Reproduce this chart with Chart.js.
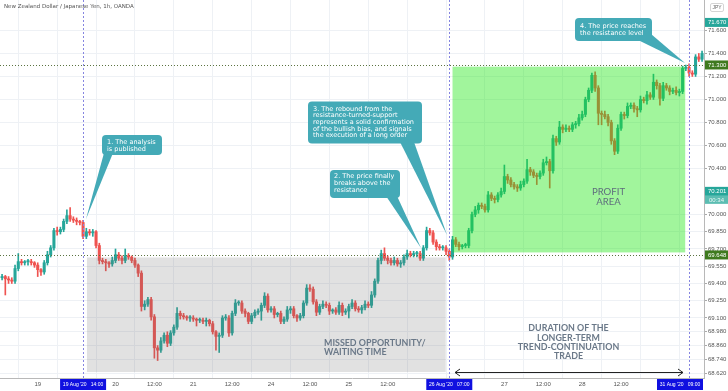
<!DOCTYPE html>
<html>
<head>
<meta charset="utf-8">
<script src="https://cdn.jsdelivr.net/npm/chart.js@4.4.0/dist/chart.umd.min.js"></script>
<style>
  html, body { margin: 0; padding: 0; background: #fff; }
  canvas { display: block; }
</style>
</head>
<body>
<canvas id="grafico" width="728" height="391"></canvas>
<script>
// Velas de 1h NZD/JPY. Indice 0 = 19 ago 00:00 (24 velas por dia de mercado)
const primerIndice = -11;
const aperturaInicial = 69.45;

const cierres = [
  69.46, 69.44, 69.43, 69.42, 69.53, 69.59, 69.58, 69.59, 69.59, 69.58, 69.56,
  // 19 ago
  69.52, 69.50, 69.58, 69.65, 69.71, 69.86, 69.85, 69.87, 69.94, 69.99, 69.96, 69.95,
  69.94, 69.93, 69.81, 69.85, 69.84, 69.85, 69.73, 69.60, 69.59, 69.58, 69.57, 69.60,
  // 20 ago
  69.65, 69.62, 69.60, 69.64, 69.63, 69.60, 69.56, 69.49, 69.20, 69.22, 69.26, 69.11,
  68.84, 68.82, 68.90, 68.95, 68.88, 68.97, 69.02, 69.14, 69.12, 69.11, 69.10, 69.10,
  // 21 ago
  69.09, 69.08, 69.08, 69.07, 69.08, 69.05, 68.98, 68.94, 68.95, 69.10, 69.10, 68.97,
  69.14, 69.23, 69.23, 69.16, 69.14, 69.07, 69.12, 69.15, 69.16, 69.21, 69.29, 69.17,
  // 24 ago
  69.18, 69.13, 69.14, 69.07, 69.09, 69.17, 69.18, 69.12, 69.10, 69.12, 69.23, 69.36,
  69.35, 69.24, 69.15, 69.20, 69.22, 69.21, 69.16, 69.17, 69.15, 69.21, 69.15, 69.16,
  // 25 ago
  69.20, 69.23, 69.18, 69.17, 69.19, 69.22, 69.21, 69.30, 69.42, 69.60, 69.66, 69.62,
  69.60, 69.58, 69.60, 69.57, 69.58, 69.63, 69.66, 69.65, 69.66, 69.66, 69.62, 69.71,
  // 26 ago
  69.86, 69.84, 69.76, 69.72, 69.71, 69.71, 69.68, 69.63, 69.78, 69.74, 69.72, 69.73,
  69.73, 69.86, 70.00, 70.04, 70.08, 70.07, 70.04, 70.17, 70.14, 70.13, 70.17, 70.20,
  // 27 ago
  70.33, 70.30, 70.26, 70.24, 70.23, 70.26, 70.29, 70.39, 70.37, 70.34, 70.33, 70.36,
  70.45, 70.46, 70.38, 70.66, 70.63, 70.76, 70.74, 70.75, 70.74, 70.78, 70.79, 70.84,
  // 28 ago
  70.87, 71.00, 71.08, 71.21, 71.10, 70.88, 70.87, 70.85, 70.80, 70.64, 70.55, 70.75,
  70.87, 70.86, 70.94, 70.95, 70.92, 70.91, 71.00, 70.99, 71.04, 71.02, 71.15, 71.12,
  // 31 ago
  71.01, 71.12, 71.10, 71.07, 71.08, 71.06, 71.07, 71.27, 71.28, 71.23, 71.22, 71.37,
  71.35, 71.40
];

// largo de las mechas en pips (0.01)
const mechaArriba = [
  2, 1, 2, 2, 3, 7, 2, 1, 2, 2, 1,
  2, 1, 2, 3, 2, 2, 3, 2, 2, 5, 7, 2, 2, 1, 2, 3, 2, 2, 1, 2, 2, 2, 1, 3,
  5, 2, 2, 6, 2, 1, 2, 1, 2, 3, 2, 2, 2, 2, 3, 2, 3, 2, 2, 5, 2, 2, 1, 2,
  2, 1, 2, 2, 2, 1, 2, 1, 2, 2, 3, 2, 2, 3, 2, 2, 2, 1, 2, 2, 2, 2, 3, 2,
  2, 2, 1, 2, 2, 3, 2, 2, 1, 2, 2, 3, 3, 2, 2, 2, 3, 2, 2, 1, 2, 3, 2, 2,
  2, 3, 2, 2, 2, 3, 2, 3, 2, 2, 3, 5, 2, 2, 3, 2, 2, 2, 3, 2, 2, 2, 2, 2,
  3, 2, 2, 2, 2, 2, 2, 2, 3, 2, 2, 1, 2, 2, 2, 3, 2, 2, 2, 3, 2, 2, 2, 3,
  10, 2, 2, 2, 2, 3, 2, 9, 2, 2, 2, 2, 3, 4, 2, 3, 2, 5, 2, 3, 2, 2, 2, 3,
  3, 2, 2, 2, 3, 2, 2, 3, 2, 2, 2, 3, 2, 2, 3, 2, 2, 2, 3, 2, 3, 2, 7, 2,
  2, 3, 2, 2, 2, 3, 2, 2, 2, 3, 2, 2, 3, 2
];
const mechaAbajo = [
  2, 14, 3, 2, 2, 2, 2, 2, 3, 2, 2,
  6, 3, 2, 2, 2, 2, 3, 2, 2, 2, 2, 2, 3, 2, 2, 2, 2, 3, 2, 3, 2, 7, 3, 2,
  2, 2, 3, 2, 2, 2, 2, 3, 4, 3, 2, 3, 9, 9, 2, 2, 3, 2, 2, 2, 3, 2, 2, 3,
  2, 5, 2, 2, 4, 2, 2, 12, 14, 2, 2, 3, 2, 2, 2, 2, 3, 2, 2, 2, 2, 8, 2, 2,
  2, 3, 2, 2, 2, 2, 3, 2, 3, 2, 2, 2, 2, 2, 3, 2, 2, 2, 3, 2, 2, 2, 3, 2,
  6, 2, 2, 2, 3, 2, 2, 2, 2, 2, 3, 2, 3, 2, 2, 2, 3, 2, 2, 2, 2, 3, 2, 2,
  2, 2, 2, 3, 2, 2, 3, 3, 2, 2, 3, 2, 2, 2, 2, 2, 3, 2, 2, 2, 2, 3, 2, 2,
  2, 3, 2, 2, 3, 2, 2, 2, 3, 2, 7, 2, 2, 2, 15, 2, 3, 2, 3, 2, 2, 2, 3, 2,
  2, 2, 2, 2, 3, 10, 9, 2, 3, 3, 3, 2, 2, 3, 2, 2, 3, 6, 2, 2, 3, 2, 2, 3,
  6, 2, 2, 3, 2, 2, 3, 2, 2, 3, 2, 2, 2, 2
];

const ticksPrecio = [71.6, 71.4, 71.2, 71.0, 70.8, 70.6, 70.4, 70.0, 69.85, 69.7,
  69.55, 69.4, 69.25, 69.1, 68.98, 68.86, 68.74, 68.62];
const ticksFecha = [0, 12, 24, 36, 48, 60, 72, 84, 96, 108, 120, 132, 144, 156, 168, 180, 192];
// las vacias quedan tapadas por las etiquetas azules
const etiquetasFecha = ['19', '', '20', '12:00', '21', '12:00', '24', '12:00', '25', '12:00',
  '', '', '27', '12:00', '28', '12:00', ''];

// niveles y momentos marcados
const resistencia = 71.3;
const soporte = 69.648;
const momentos = [14, 127, 201];
const textosMomento = ["19 Aug '20   14:00", "26 Aug '20   07:00", "31 Aug '20   09:00"];
const etiquetasEje = [
  { v: 71.67, txt: '71.670', bg: '#26a69a' },
  { v: 71.3, txt: '71.300', bg: '#3f7a1f' },
  { v: 70.201, txt: '70.201', bg: '#26a69a' },
  { v: 69.648, txt: '69.648', bg: '#3f7a1f' }
];
const zonaEspera = { x0: 15.2, x1: 125.9, y0: 68.63, y1: 69.626 };
const zonaGanancia = { x0: 128.0, x1: 199.8, y0: 69.67, y1: 71.285 };

const VERDE = '#26a69a';
const ROJO = '#ef5350';
const FUENTE = '"DejaVu Sans", Verdana, sans-serif';
const FUENTE_EJE = '"Liberation Sans", Arial, sans-serif';

const velas = cierres.map((c, k) => {
  const o = k === 0 ? aperturaInicial : cierres[k - 1];
  return {
    x: primerIndice + k, o: o, c: c,
    h: Math.max(o, c) + mechaArriba[k] / 100,
    l: Math.min(o, c) - mechaAbajo[k] / 100
  };
});
const colores = velas.map(v => v.c >= v.o ? VERDE : ROJO);

function rectRedondo(ctx, x, y, w, h, r) {
  ctx.beginPath();
  ctx.moveTo(x + r, y);
  ctx.lineTo(x + w - r, y);
  ctx.quadraticCurveTo(x + w, y, x + w, y + r);
  ctx.lineTo(x + w, y + h - r);
  ctx.quadraticCurveTo(x + w, y + h, x + w - r, y + h);
  ctx.lineTo(x + r, y + h);
  ctx.quadraticCurveTo(x, y + h, x, y + h - r);
  ctx.lineTo(x, y + r);
  ctx.quadraticCurveTo(x, y, x + r, y);
  ctx.closePath();
}

// Globos de texto (coordenadas en pixeles del lienzo)
const globos = [
  { x: 102, y: 135, w: 60, h: 20, cola: [[104, 153], [113, 153], [86, 219]], tx: 107, ty: 142.7,
    lineas: ['1. The analysis', 'is published'] },
  { x: 330, y: 170, w: 70, h: 28, cola: [[386, 196], [397, 196], [421, 248]], tx: 334, ty: 176.7,
    lineas: ['2. The price finally', 'breaks above the', 'resistance'] },
  { x: 308, y: 101.5, w: 114, h: 42, cola: [[400, 142], [414, 142], [447, 235]], tx: 313, ty: 109,
    lineas: ['3. The rebound from the', 'resistance-turned-support', 'represents a solid confirmation',
      'of the bullish bias, and signals', 'the execution of a long order'] },
  { x: 575, y: 18, w: 77, h: 23, cola: [[638, 40], [651, 34], [685, 63]], tx: 580, ty: 26.7,
    lineas: ['4. The price reaches', 'the resistance level'] }
];

const dibujos = {
  id: 'dibujos',
  afterDatasetsDraw(chart) {
    const ctx = chart.ctx;
    const xs = chart.scales.x, ys = chart.scales.y;
    const px = v => xs.getPixelForValue(v);
    const py = v => ys.getPixelForValue(v);
    const area = chart.chartArea;
    ctx.save();

    // zonas sombreadas encima de las velas
    ctx.fillStyle = 'rgba(105,105,105,0.2)';
    ctx.fillRect(px(zonaEspera.x0), py(zonaEspera.y1), px(zonaEspera.x1) - px(zonaEspera.x0), py(zonaEspera.y0) - py(zonaEspera.y1));
    ctx.fillStyle = 'rgba(30,230,20,0.42)';
    ctx.fillRect(px(zonaGanancia.x0), py(zonaGanancia.y1), px(zonaGanancia.x1) - px(zonaGanancia.x0), py(zonaGanancia.y0) - py(zonaGanancia.y1));

    // lineas punteadas horizontales
    ctx.lineWidth = 1;
    ctx.setLineDash([1, 2]);
    ctx.strokeStyle = '#5b7340';
    [resistencia, soporte].forEach(v => {
      const y = Math.round(py(v)) + 0.5;
      ctx.beginPath(); ctx.moveTo(area.left, y); ctx.lineTo(area.right, y); ctx.stroke();
    });

    // verticales de los momentos
    ctx.setLineDash([2, 2]);
    ctx.strokeStyle = '#8585e0';
    momentos.forEach(m => {
      const x = Math.round(px(m)) + 0.5;
      ctx.beginPath(); ctx.moveTo(x, area.top); ctx.lineTo(x, area.bottom); ctx.stroke();
    });
    ctx.setLineDash([]);

    // textos de las zonas
    ctx.fillStyle = '#6a7888';
    ctx.font = 'bold 8.9px Lato, "Open Sans", sans-serif';
    ctx.textBaseline = 'middle';
    ctx.textAlign = 'left';
    ctx.fillText('MISSED OPPORTUNITY/', 324, 342.7);
    ctx.fillText('WAITING TIME', 324, 352.3);
    ctx.textAlign = 'center';
    ['DURATION OF THE', 'LONGER-TERM', 'TREND-CONTINUATION', 'TRADE'].forEach((t, k) => {
      ctx.fillText(t, 568.5, 328.3 + k * 9.4);
    });
    ctx.font = '9.6px Lato, "Open Sans", sans-serif';
    ctx.fillStyle = '#5f6e7e';
    ctx.fillText('PROFIT', 608.5, 191.7);
    ctx.fillText('AREA', 608.5, 201.7);

    // flecha doble de duracion
    const ya = 372.5, xa = 455, xb = 683;
    ctx.strokeStyle = '#222';
    ctx.lineWidth = 1;
    ctx.beginPath(); ctx.moveTo(xa, ya); ctx.lineTo(xb, ya); ctx.stroke();
    ctx.beginPath();
    ctx.moveTo(xa + 5, ya - 3.5); ctx.lineTo(xa, ya); ctx.lineTo(xa + 5, ya + 3.5);
    ctx.moveTo(xb - 5, ya - 3.5); ctx.lineTo(xb, ya); ctx.lineTo(xb - 5, ya + 3.5);
    ctx.stroke();

    // globos
    globos.forEach(g => {
      ctx.fillStyle = '#44aab7';
      ctx.beginPath();
      ctx.moveTo(g.cola[0][0], g.cola[0][1]);
      ctx.lineTo(g.cola[1][0], g.cola[1][1]);
      ctx.lineTo(g.cola[2][0], g.cola[2][1]);
      ctx.closePath();
      ctx.fill();
      rectRedondo(ctx, g.x, g.y, g.w, g.h, 4);
      ctx.fill();
      ctx.fillStyle = '#fff';
      ctx.font = '6.5px ' + FUENTE;
      ctx.textAlign = 'left';
      ctx.textBaseline = 'middle';
      g.lineas.forEach((t, k) => ctx.fillText(t, g.tx, g.ty + k * 6.7));
    });
    ctx.restore();
  },
  afterDraw(chart) {
    const ctx = chart.ctx;
    const xs = chart.scales.x, ys = chart.scales.y;
    const area = chart.chartArea;
    ctx.save();
    ctx.textBaseline = 'middle';

    // titulo
    ctx.fillStyle = '#555';
    ctx.font = '5.5px ' + FUENTE;
    ctx.textAlign = 'left';
    ctx.fillText('New Zealand Dollar / Japanese Yen, 1h, OANDA', 4, 6.5);

    // caja JPY
    ctx.fillStyle = '#fff';
    ctx.strokeStyle = '#d5d5d5';
    rectRedondo(ctx, 710.5, 3.5, 13, 8, 1.5);
    ctx.fill(); ctx.stroke();
    ctx.fillStyle = '#666';
    ctx.font = '5px ' + FUENTE_EJE;
    ctx.textAlign = 'center';
    ctx.fillText('JPY', 717, 7.8);

    // etiquetas de precio en el eje
    ctx.font = '6px ' + FUENTE_EJE;
    ctx.textAlign = 'left';
    etiquetasEje.forEach(e => {
      const y = ys.getPixelForValue(e.v);
      ctx.fillStyle = e.bg;
      ctx.fillRect(area.right + 1, y - 4.5, 727 - area.right, 9);
      ctx.fillStyle = '#fff';
      ctx.fillText(e.txt, area.right + 4, y + 0.3);
      if (e.txt === '70.201') {
        ctx.fillStyle = '#5cbdb2';
        ctx.fillRect(area.right + 1, y + 4.5, 727 - area.right, 8);
        ctx.fillStyle = '#e9f7f5';
        ctx.fillText('00:34', area.right + 5, y + 8.6);
      }
    });

    // etiquetas azules de fecha (el texto se ajusta al ancho de la caja)
    momentos.forEach((m, k) => {
      const w = 46;
      let cx = xs.getPixelForValue(m);
      cx = Math.min(cx, area.right - w / 2 - 1);
      ctx.fillStyle = '#1010e0';
      ctx.fillRect(cx - w / 2, area.bottom + 1, w, 11);
      let tam = 6;
      ctx.font = tam + 'px ' + FUENTE_EJE;
      while (ctx.measureText(textosMomento[k]).width > w - 5 && tam > 3) {
        tam -= 0.2;
        ctx.font = tam + 'px ' + FUENTE_EJE;
      }
      ctx.fillStyle = '#fff';
      ctx.textAlign = 'center';
      ctx.fillText(textosMomento[k], cx, area.bottom + 6.5);
    });
    ctx.restore();
  }
};

new Chart(document.getElementById('grafico'), {
  type: 'bar',
  data: {
    datasets: [
      {
        label: 'mechas',
        data: velas.map(v => ({ x: v.x, y: [v.l, v.h] })),
        backgroundColor: colores,
        barThickness: 1,
        grouped: false,
        order: 2
      },
      {
        label: 'cuerpos',
        data: velas.map(v => ({ x: v.x, y: [v.o, v.c] })),
        backgroundColor: colores,
        barThickness: 2.4,
        minBarLength: 1,
        grouped: false,
        order: 1
      }
    ]
  },
  options: {
    responsive: false,
    devicePixelRatio: 1,
    animation: false,
    layout: { padding: 0 },
    plugins: { legend: { display: false }, tooltip: { enabled: false } },
    scales: {
      x: {
        type: 'linear',
        min: -11.64,
        max: 205.6,
        offset: false,
        afterBuildTicks: s => { s.ticks = ticksFecha.map(v => ({ value: v })); },
        afterFit: s => { s.height = 13; s.paddingLeft = 0; s.paddingRight = 0; },
        ticks: {
          autoSkip: false, maxRotation: 0, padding: 3,
          font: { size: 6, family: FUENTE_EJE }, color: '#555',
          callback: (v, i) => etiquetasFecha[i]
        },
        grid: { color: '#eef1f5', drawTicks: false },
        border: { color: '#b8b8b8' }
      },
      y: {
        position: 'right',
        min: 68.578,
        max: 71.865,
        afterBuildTicks: s => { s.ticks = ticksPrecio.map(v => ({ value: v })); },
        afterFit: s => { s.width = 24; s.paddingTop = 0; s.paddingBottom = 0; },
        ticks: {
          padding: 1, font: { size: 6, family: FUENTE_EJE }, color: '#555',
          callback: v => v.toFixed(3)
        },
        grid: { color: '#eef1f5', tickLength: 3, tickColor: '#aaa' },
        border: { color: '#b8b8b8' }
      }
    }
  },
  plugins: [dibujos]
});
</script>
</body>
</html>
